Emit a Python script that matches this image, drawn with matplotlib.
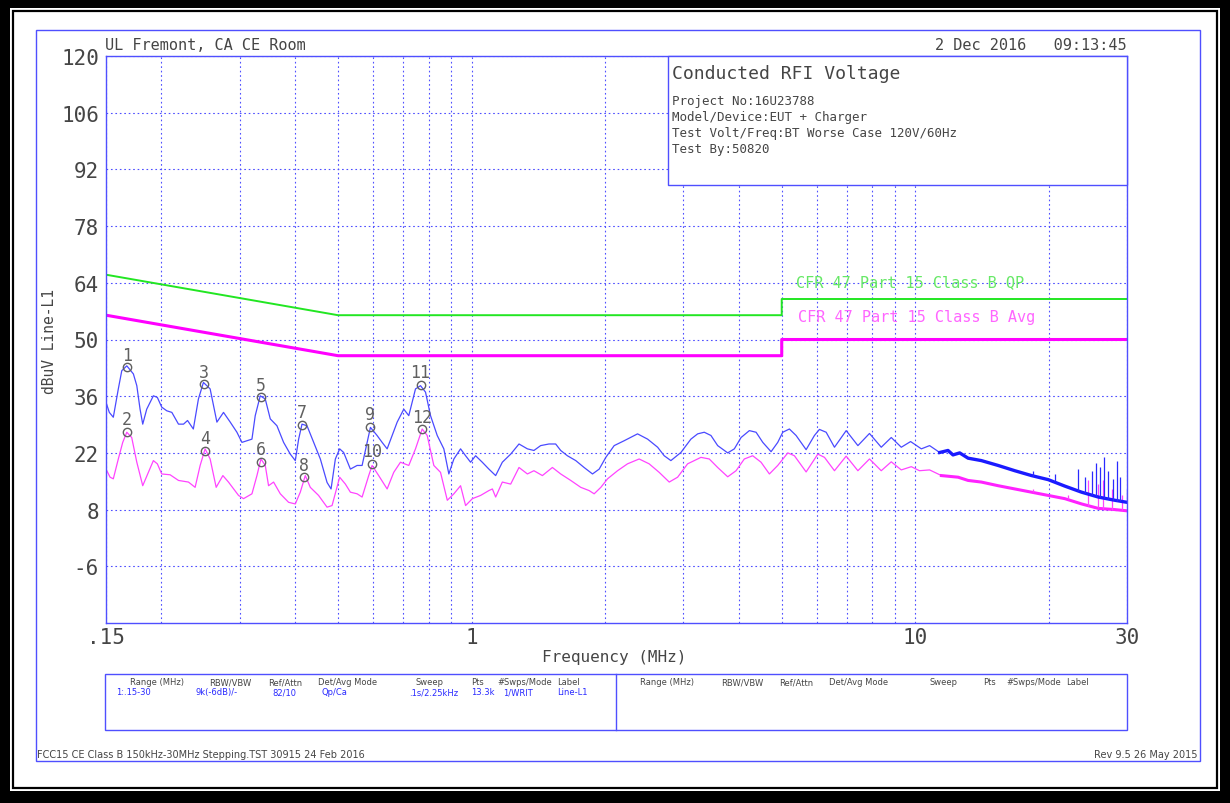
import numpy as np
import matplotlib
matplotlib.use("Agg")
import matplotlib.pyplot as plt
from matplotlib.patches import Rectangle
from matplotlib.ticker import FixedLocator, NullFormatter

plt.rcParams['axes.unicode_minus'] = False

# ---- peak scan (blue), MHz / dBuV
pk_f = [0.150, 0.1526, 0.1558, 0.1599, 0.1628, 0.1671, 0.1729, 0.1760, 0.1790, 0.1815,
        0.1853, 0.1918, 0.1958, 0.2003, 0.2056, 0.2111, 0.2185, 0.2243, 0.2290, 0.2360,
        0.2423, 0.2487, 0.2575, 0.2667, 0.2760, 0.2858, 0.2959, 0.3037, 0.3117, 0.3199,
        0.3254, 0.3340, 0.3428, 0.3518, 0.3642, 0.3770, 0.3903, 0.4006, 0.4076, 0.4148,
        0.4257, 0.4406, 0.4562, 0.4724, 0.4823, 0.4932, 0.5043, 0.5149, 0.5332, 0.5521,
        0.5666, 0.5815, 0.5916, 0.6124, 0.6286, 0.6452, 0.6622, 0.6797, 0.7034, 0.7219,
        0.7346, 0.7475, 0.7672, 0.7874, 0.8081, 0.8367, 0.8659, 0.8887, 0.9122, 0.9444,
        0.9694, 0.9948, 1.021, 1.057, 1.094, 1.133, 1.173, 1.225, 1.279, 1.336,
        1.382, 1.431, 1.494, 1.547, 1.588, 1.644, 1.717, 1.793, 1.873, 1.939,
        2.007, 2.096, 2.207, 2.366, 2.493, 2.626, 2.717, 2.813, 2.963, 3.121,
        3.232, 3.345, 3.463, 3.586, 3.778, 3.910, 4.049, 4.227, 4.377, 4.532,
        4.731, 4.898, 5.027, 5.203, 5.387, 5.675, 5.925, 6.081, 6.297, 6.574,
        6.986, 7.424, 7.884, 8.380, 8.828, 9.299, 9.759, 10.32, 10.77, 11.35,
        11.85, 12.16, 12.59, 13.15, 14.09, 15.37, 16.76, 18.28, 19.93, 21.73,
        23.70, 25.85, 28.18, 30.0]
pk_v = [34.5, 32.0, 30.8, 37.8, 42.3, 43.5, 41.5, 38.6, 32.8, 29.1,
        32.8, 36.1, 35.7, 33.3, 32.4, 32.0, 29.1, 29.1, 30.0, 27.9,
        35.3, 39.4, 37.8, 29.6, 32.0, 29.6, 27.1, 24.6, 25.0, 25.4,
        31.2, 36.1, 35.3, 30.4, 28.7, 24.6, 21.7, 20.1, 25.4, 29.1,
        28.7, 24.6, 20.5, 14.7, 13.1, 20.5, 23.0, 22.1, 18.0, 18.9,
        18.9, 24.6, 28.3, 26.3, 24.6, 23.0, 26.3, 29.6, 32.8, 31.2,
        34.5, 37.8, 38.6, 37.0, 31.2, 26.3, 23.0, 16.8, 20.5, 23.0,
        21.3, 19.7, 21.3, 19.7, 18.0, 16.4, 19.7, 21.7, 24.2, 23.0,
        22.6, 23.8, 24.2, 24.2, 22.6, 21.3, 20.1, 18.4, 16.8, 18.0,
        20.9, 23.8, 25.0, 26.7, 25.4, 23.4, 21.3, 20.1, 22.1, 25.4,
        26.7, 27.1, 26.3, 23.8, 22.0, 23.0, 25.8, 27.5, 27.1, 24.6,
        22.3, 24.6, 27.1, 27.9, 26.3, 22.8, 26.3, 27.8, 27.1, 23.4,
        27.5, 23.8, 26.8, 23.4, 25.8, 23.4, 24.8, 23.0, 23.8, 22.1,
        22.6, 21.5, 22.0, 20.7, 20.1, 18.9, 17.6, 16.4, 15.4, 13.8,
        12.3, 11.1, 10.3, 9.8]

# ---- average scan (magenta)
av_f = [0.150, 0.1532, 0.1558, 0.1599, 0.1636, 0.1671, 0.1714, 0.1760, 0.1815, 0.1869,
        0.1918, 0.1958, 0.2003, 0.2092, 0.2185, 0.2301, 0.2382, 0.2445, 0.2509, 0.2575,
        0.2657, 0.2751, 0.2832, 0.2984, 0.3062, 0.3199, 0.3283, 0.3352, 0.3428, 0.3487,
        0.3579, 0.3706, 0.3869, 0.4006, 0.4111, 0.4219, 0.4330, 0.4520, 0.4724, 0.4848,
        0.5043, 0.5195, 0.5332, 0.5521, 0.5666, 0.5864, 0.5968, 0.6175, 0.6452, 0.6677,
        0.6914, 0.7219, 0.7475, 0.7739, 0.7943, 0.8221, 0.8511, 0.8816, 0.9122, 0.9444,
        0.9694, 1.004, 1.048, 1.094, 1.114, 1.133, 1.173, 1.225, 1.279, 1.336,
        1.382, 1.444, 1.521, 1.588, 1.673, 1.762, 1.840, 1.889, 1.956, 2.025,
        2.133, 2.246, 2.386, 2.513, 2.647, 2.789, 2.913, 3.068, 3.288, 3.433,
        3.586, 3.778, 3.945, 4.118, 4.301, 4.491, 4.690, 4.898, 5.160, 5.340,
        5.675, 6.030, 6.242, 6.574, 6.986, 7.424, 7.884, 8.380, 8.828, 9.299,
        9.795, 10.22, 10.77, 11.45, 12.49, 13.15, 14.09, 15.37, 16.76, 18.28,
        19.93, 21.73, 23.70, 25.85, 28.18, 30.0]
av_v = [18.0, 16.0, 15.6, 20.5, 24.6, 27.1, 25.8, 19.7, 13.9, 17.2,
        20.1, 19.3, 16.8, 16.6, 15.2, 14.8, 13.5, 18.9, 23.0, 20.5,
        13.5, 16.4, 14.8, 11.5, 10.7, 11.9, 16.4, 20.5, 18.9, 13.9,
        14.8, 11.9, 9.8, 9.4, 12.3, 16.4, 13.5, 11.5, 8.6, 9.0,
        16.0, 14.3, 12.3, 11.9, 11.1, 16.4, 18.9, 16.4, 13.1, 17.2,
        19.7, 18.9, 23.0, 27.9, 26.3, 18.9, 17.2, 10.3, 11.9, 13.9,
        9.0, 10.7, 11.5, 12.7, 13.1, 11.1, 14.8, 14.3, 18.4, 16.8,
        17.6, 16.4, 18.4, 16.8, 15.2, 13.5, 12.7, 11.9, 13.5, 15.6,
        17.6, 19.3, 20.5, 19.3, 17.2, 14.8, 16.0, 19.3, 20.9, 20.5,
        18.4, 16.1, 17.6, 20.5, 21.3, 19.7, 16.8, 18.9, 22.0, 21.3,
        17.3, 21.7, 20.9, 17.6, 21.2, 17.6, 20.5, 17.6, 19.8, 17.8,
        18.6, 17.6, 17.8, 16.4, 16.0, 15.2, 14.8, 13.9, 13.1, 12.3,
        11.5, 10.7, 9.4, 8.3, 8.0, 7.7]

# spikes above the noise floor at the top end
pk_spk_f = [18.44, 20.63, 23.30, 24.11, 24.97, 25.50, 26.07, 26.67, 27.23, 27.95, 28.50, 28.93, 29.95]
pk_spk_lo = [16.3, 15.0, 12.6, 12.1, 11.6, 11.3, 11.0, 10.9, 10.6, 10.4, 10.2, 10.1, 9.8]
pk_spk_hi = [17.6, 16.8, 18.0, 16.0, 17.6, 19.5, 18.4, 20.9, 17.6, 15.6, 20.0, 16.0, 13.1]
av_spk_f = [18.44, 22.12, 24.54, 25.85, 26.53, 27.70, 29.17]
av_spk_lo = [12.3, 10.5, 9.0, 8.3, 8.2, 8.0, 7.8]
av_spk_hi = [13.1, 11.5, 15.2, 14.3, 15.2, 13.1, 11.5]

# limits
qp_f = [0.15, 0.5, 5, 5, 30]
qp_v = [66, 56, 56, 60, 60]
avl_f = [0.15, 0.5, 5, 5, 30]
avl_v = [56, 46, 46, 50, 50]

# marked peaks
mk_f = [0.1671, 0.1671, 0.2496, 0.2509, 0.3357, 0.3357, 0.4155, 0.4198, 0.5916, 0.5976, 0.7672, 0.7750]
mk_v = [43.2, 27.2, 39.0, 22.5, 35.8, 19.8, 28.9, 16.0, 28.4, 19.3, 38.8, 27.9]
mk_lbl = [str(i) for i in range(1, 13)]

yticks = [-6, 8, 22, 36, 50, 64, 78, 92, 106, 120]
xticks = [0.15, 1, 10, 30]
xtick_lbl = ['.15', '1', '10', '30']
xminor = [0.2, 0.3, 0.4, 0.5, 0.6, 0.7, 0.8, 0.9, 2, 3, 4, 5, 6, 7, 8, 9, 20]

info = ['Project No:16U23788', 'Model/Device:EUT + Charger',
        'Test Volt/Freq:BT Worse Case 120V/60Hz', 'Test By:50820']
tbl_head = ['Range (MHz)', 'RBW/VBW', 'Ref/Attn', 'Det/Avg Mode', 'Sweep', 'Pts', '#Swps/Mode', 'Label']
tbl_row = ['1:.15-30', '9k(-6dB)/-', '82/10', 'Qp/Ca', '.1s/2.25kHz', '13.3k', '1/WRIT', 'Line-L1']

BLUE = '#4f4fff'
GREY = '#454545'
MONO = 'DejaVu Sans Mono'
W, H = 1230, 804

fig = plt.figure(figsize=(W / 100, H / 100), dpi=100, facecolor='black')

# page background / frames in pixel coords
bg = fig.add_axes([0, 0, 1, 1])
bg.set_xlim(0, W)
bg.set_ylim(H, 0)
bg.axis('off')
bg.add_patch(Rectangle((10, 9), W - 20, H - 21, facecolor='white', edgecolor='none'))
bg.add_patch(Rectangle((13, 12), W - 26, H - 27, fill=False, edgecolor='black', lw=1.6))
bg.add_patch(Rectangle((36, 31), 1164, 731, fill=False, edgecolor=BLUE, lw=1))

bg.text(105, 45, 'UL Fremont, CA CE Room', family=MONO, fontsize=11, color=GREY, va='center')
bg.text(1127, 45, '2 Dec 2016   09:13:45', family=MONO, fontsize=11, color=GREY, va='center', ha='right')
bg.text(50, 342, 'dBuV Line-L1', family=MONO, fontsize=10.5, color=GREY, rotation=90, va='center', ha='center')
bg.text(614, 658, 'Frequency (MHz)', family=MONO, fontsize=11.5, color=GREY, va='center', ha='center')

# settings table
bg.add_patch(Rectangle((105, 675), 1022, 56, fill=False, edgecolor=BLUE, lw=1))
bg.plot([616, 616], [675, 731], color=BLUE, lw=1)
head_x1 = [130, 209, 268, 318, 416, 471, 497, 557]
head_x2 = [640, 721, 779, 829, 929, 983, 1006, 1066]
row_x = [116, 196, 272, 321, 409, 471, 503, 557]
for t, a, b in zip(tbl_head, head_x1, head_x2):
    bg.text(a, 683, t, fontsize=6, color=GREY, va='center')
    bg.text(b, 683, t, fontsize=6, color=GREY, va='center')
for t, a in zip(tbl_row, row_x):
    bg.text(a, 693, t, fontsize=6, color='#2a2aff', va='center')

bg.text(37, 755, 'FCC15 CE Class B 150kHz-30MHz Stepping.TST 30915 24 Feb 2016',
        fontsize=7, color=GREY, va='center')
bg.text(1198, 755, 'Rev 9.5 26 May 2015', fontsize=7, color=GREY, va='center', ha='right')

# main chart
ax = fig.add_axes([106 / W, 1 - 624 / H, (1127 - 106) / W, (624 - 57) / H])
ax.set_xscale('log')
ax.set_xlim(0.15, 30)
ax.set_ylim(-20, 120)
for s in ax.spines.values():
    s.set_color(BLUE)
    s.set_linewidth(1)
ax.set_yticks(yticks)
ax.set_xticks(xticks)
ax.set_xticklabels(xtick_lbl)
ax.xaxis.set_minor_locator(FixedLocator(xminor))
ax.xaxis.set_minor_formatter(NullFormatter())
ax.yaxis.set_minor_locator(FixedLocator([]))
ax.tick_params(which='both', length=0, labelcolor=GREY, labelsize=15)
ax.tick_params(axis='y', pad=5)
ax.tick_params(axis='x', pad=3)
for lb in ax.get_xticklabels() + ax.get_yticklabels():
    lb.set_family(MONO)
ax.grid(True, which='both', axis='x', color=BLUE, lw=0.8, ls=(0, (1.5, 2.5)))
ax.grid(True, which='major', axis='y', color=BLUE, lw=0.8, ls=(0, (1.5, 2.5)))

ax.plot(qp_f, qp_v, color='#22e622', lw=1.4)
ax.plot(avl_f, avl_v, color='#ff00ff', lw=2.2)
ax.text(5.39, 64.4, 'CFR 47 Part 15 Class B QP', family=MONO, fontsize=11, color='#66e866', va='center')
ax.text(5.45, 55.6, 'CFR 47 Part 15 Class B Avg', family=MONO, fontsize=11, color='#ff66ff', va='center')

pf = np.array(pk_f)
pv = np.array(pk_v)
af = np.array(av_f)
avv = np.array(av_v)
ax.plot(af, avv, color='#ff44ff', lw=0.9)
ax.plot(af[af >= 11], avv[af >= 11], color='#ff22ff', lw=2.2)
ax.vlines(av_spk_f, av_spk_lo, av_spk_hi, color='#ff44ff', lw=0.9)
ax.plot(pf, pv, color='#4a4aff', lw=0.9)
ax.plot(pf[pf >= 11], pv[pf >= 11], color='#1a1aff', lw=2.4)
ax.vlines(pk_spk_f, pk_spk_lo, pk_spk_hi, color='#2a2aff', lw=0.9)

ax.plot(mk_f, mk_v, ls='none', marker='o', ms=6, mfc='none', mec='#606060', mew=1)
for f, v, t in zip(mk_f, mk_v, mk_lbl):
    ax.annotate(t, (f, v), xytext=(0, 9), textcoords='offset points', ha='center', va='center',
                family=MONO, fontsize=12, color='#606060')

# info box on top of the plot
top = fig.add_axes([0, 0, 1, 1], zorder=5)
top.set_xlim(0, W)
top.set_ylim(H, 0)
top.axis('off')
top.patch.set_alpha(0)
top.add_patch(Rectangle((668, 57), 459, 129, facecolor='white', edgecolor=BLUE, lw=1))
top.text(672, 74, 'Conducted RFI Voltage', family=MONO, fontsize=13, color=GREY, va='center')
for i, t in enumerate(info):
    top.text(672, 102 + 16 * i, t, family=MONO, fontsize=9, color=GREY, va='center')

fig.savefig('out.png', dpi=100, facecolor=fig.get_facecolor())
